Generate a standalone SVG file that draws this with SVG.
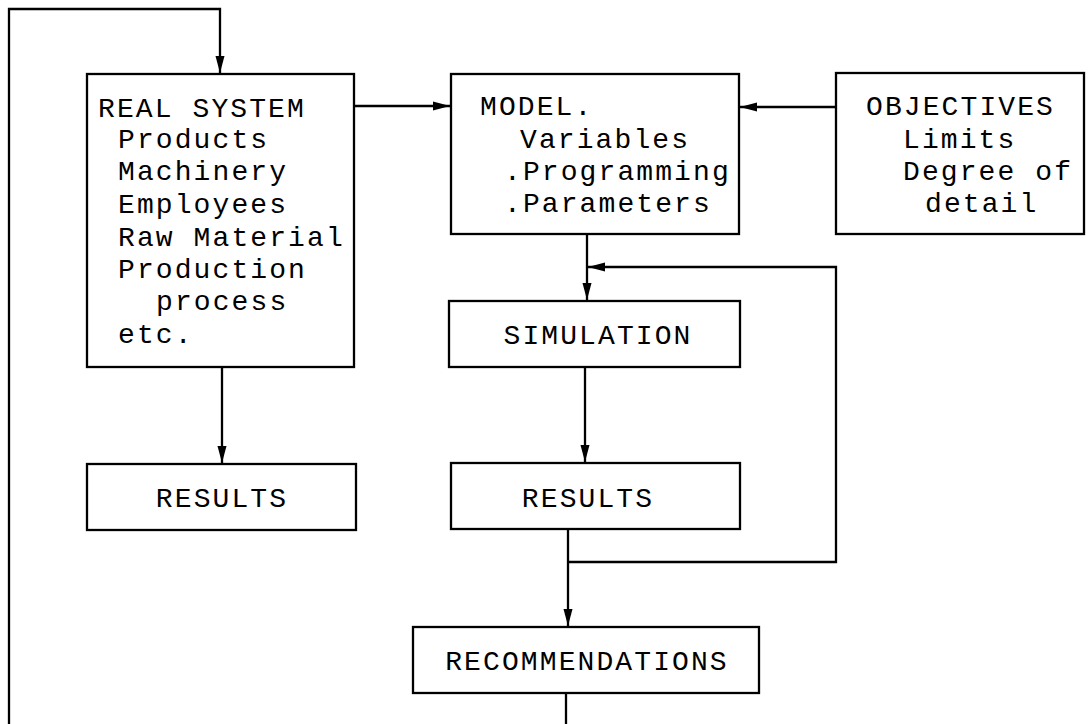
<svg xmlns="http://www.w3.org/2000/svg" width="1088" height="724" viewBox="0 0 1088 724">
<style>
.box{fill:#fff;stroke:#000;stroke-width:2.3}
.t{font-family:"Liberation Mono","Courier New",monospace;font-size:28px;letter-spacing:2.1px;fill:#000}
.c{text-anchor:middle}
.ln{fill:none;stroke:#000;stroke-width:2.3}
</style>
<defs>
<marker id="ah" markerUnits="userSpaceOnUse" markerWidth="20" markerHeight="12" refX="17" refY="6" orient="auto">
<path d="M0,1.5 L17,6 L0,10.5 Z" fill="#000"/>
</marker>
</defs>
<rect width="1088" height="724" fill="#fff"/>
<g id="connectors">
<path class="ln" d="M9,724 V9 H220 V73" marker-end="url(#ah)"/>
<path class="ln" d="M354,106 H450" marker-end="url(#ah)"/>
<path class="ln" d="M836,107 H740" marker-end="url(#ah)"/>
<path class="ln" d="M587,234 V300" marker-end="url(#ah)"/>
<path class="ln" d="M568,562 H836 V267 H588" marker-end="url(#ah)"/>
<path class="ln" d="M585,367 V462" marker-end="url(#ah)"/>
<path class="ln" d="M222,367 V463" marker-end="url(#ah)"/>
<path class="ln" d="M568,529 V626" marker-end="url(#ah)"/>
<path class="ln" d="M566,693 V724"/>
</g>
<g id="real-system">
<rect class="box" x="87" y="74" width="267" height="293"/>
<text class="t" x="98" y="117">REAL SYSTEM</text>
<text class="t" x="118" y="148">Products</text>
<text class="t" x="118" y="180">Machinery</text>
<text class="t" x="118" y="213">Employees</text>
<text class="t" x="118" y="246">Raw Material</text>
<text class="t" x="118" y="278">Production</text>
<text class="t" x="156" y="310">process</text>
<text class="t" x="118" y="343">etc.</text>
</g>
<g id="model">
<rect class="box" x="451" y="74" width="288" height="160"/>
<text class="t" x="480" y="115">MODEL.</text>
<text class="t" x="520" y="148">Variables</text>
<text class="t" x="504" y="180">.Programming</text>
<text class="t" x="504" y="212">.Parameters</text>
</g>
<g id="objectives">
<rect class="box" x="836" y="73" width="248" height="161"/>
<text class="t" x="866" y="115">OBJECTIVES</text>
<text class="t" x="903" y="148">Limits</text>
<text class="t" x="903" y="180">Degree of</text>
<text class="t" x="925" y="212">detail</text>
</g>
<g id="simulation">
<rect class="box" x="449" y="301" width="291" height="66"/>
<text class="t c" x="598" y="344">SIMULATION</text>
</g>
<g id="results-left">
<rect class="box" x="87" y="464" width="269" height="66"/>
<text class="t c" x="222" y="507">RESULTS</text>
</g>
<g id="results-mid">
<rect class="box" x="451" y="463" width="289" height="66"/>
<text class="t c" x="588" y="507">RESULTS</text>
</g>
<g id="recommendations">
<rect class="box" x="413" y="627" width="346" height="66"/>
<text class="t c" x="587" y="670">RECOMMENDATIONS</text>
</g>
</svg>
